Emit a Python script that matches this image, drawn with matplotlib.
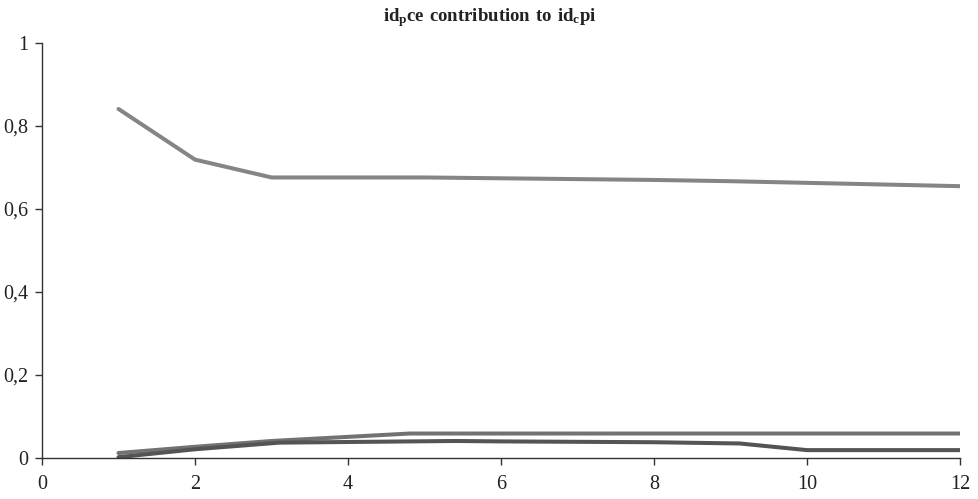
import numpy as np
import matplotlib.pyplot as plt
from matplotlib.ticker import FuncFormatter

plt.rcParams['font.family'] = ['Liberation Serif', 'DejaVu Serif']
plt.rcParams['mathtext.fontset'] = 'custom'
plt.rcParams['mathtext.rm'] = 'Liberation Serif'
plt.rcParams['mathtext.bf'] = 'Liberation Serif:bold'

# contribution series
x_top = [1, 2, 3, 4, 5, 6, 7, 8, 9, 10, 11, 12]
y_top = [0.841, 0.719, 0.676, 0.676, 0.676, 0.674, 0.672, 0.670, 0.667, 0.663, 0.659, 0.655]

x_mid = [1, 2, 3, 4.81, 6, 8, 10, 12]
y_mid = [0.012, 0.027, 0.041, 0.059, 0.059, 0.059, 0.059, 0.059]

x_low = [1, 2, 3.1, 5.4, 6, 8, 9.12, 10, 12]
y_low = [0.002, 0.021, 0.037, 0.041, 0.040, 0.038, 0.035, 0.019, 0.019]

x_ticks = [0, 2, 4, 6, 8, 10, 12]
y_ticks = [0, 0.2, 0.4, 0.6, 0.8, 1]

fig = plt.figure(figsize=(9.79, 4.99), dpi=100)
ax = fig.add_axes([42 / 979, 1 - 458 / 499, 918 / 979, 415 / 499])

ax.plot(x_top, y_top, color='#858585', linewidth=2.9, solid_capstyle='round')
ax.plot(x_mid, y_mid, color='#727272', linewidth=2.9, solid_capstyle='round')
ax.plot(x_low, y_low, color='#545454', linewidth=2.9, solid_capstyle='round')

ax.set_xlim(0, 12)
ax.set_ylim(0, 1)
ax.set_xticks(x_ticks)
ax.set_yticks(y_ticks)
ax.yaxis.set_major_formatter(FuncFormatter(lambda v, p: ('%g' % v).replace('.', ',')))

for side in ['top', 'right']:
    ax.spines[side].set_visible(False)
for side in ['left', 'bottom']:
    ax.spines[side].set_color('#333333')
    ax.spines[side].set_linewidth(1.0)
ax.spines['left'].set_bounds(0, 1)
ax.tick_params(axis='both', direction='out', length=5, width=1.0, color='#333333',
               labelsize=14.5, labelcolor='#222222')
ax.tick_params(axis='x', pad=7)
ax.tick_params(axis='y', pad=5)

fig.suptitle(r'$\mathbf{id_{p}ce\ contribution\ to\ id_{c}pi}$', y=0.988,
             fontsize=13.5, color='#222222')

fig.savefig('out.png', dpi=100)
